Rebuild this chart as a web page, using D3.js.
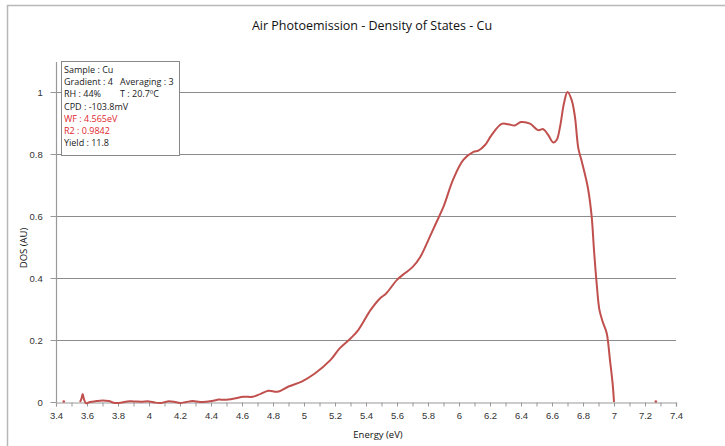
<!DOCTYPE html>
<html>
<head>
<meta charset="utf-8">
<script src="https://cdn.jsdelivr.net/npm/d3@7"></script>
<style>
  html, body { margin: 0; padding: 0; background: #fff; }
  svg { display: block; font-family: "Open Sans", "Noto Sans", sans-serif; }
</style>
</head>
<body>
<svg id="chart" width="725" height="446"></svg>
<script>
// Density of states spectrum (energy in eV, DOS normalised)
const energy = [3.555, 3.565, 3.572, 3.58, 3.594, 3.62, 3.66, 3.70, 3.74, 3.78, 3.82, 3.86, 3.90, 3.95, 4.00,
  4.04, 4.08, 4.12, 4.16, 4.20, 4.24, 4.28, 4.33, 4.37, 4.415, 4.45, 4.49, 4.55, 4.61, 4.67, 4.72, 4.77,
  4.83, 4.90, 4.985, 5.07, 5.17, 5.23, 5.30, 5.35, 5.43, 5.49, 5.53, 5.60, 5.65, 5.70, 5.75, 5.80,
  5.85, 5.90, 5.963, 6.028, 6.093, 6.125, 6.168, 6.21, 6.275, 6.318, 6.36, 6.40, 6.458, 6.51, 6.544,
  6.576, 6.608, 6.63, 6.652, 6.677, 6.70, 6.727, 6.748, 6.77, 6.79, 6.817, 6.834, 6.856, 6.871, 6.888,
  6.906, 6.927, 6.953, 6.974, 6.991, 7.0];
const dos = [0.0, 0.012, 0.026, 0.01, -0.004, 0.0, 0.003, 0.005, 0.003, -0.003, -0.002, 0.002, 0.002, 0.001, 0.002,
  -0.002, -0.003, 0.002, 0.001, -0.003, 0.0, 0.003, 0.0, 0.001, 0.004, 0.008, 0.007, 0.011, 0.017, 0.017, 0.026, 0.036,
  0.033, 0.05, 0.066, 0.092, 0.135, 0.173, 0.205, 0.232, 0.297, 0.334, 0.35, 0.394, 0.415, 0.435, 0.468, 0.52,
  0.575, 0.63, 0.719, 0.781, 0.807, 0.811, 0.829, 0.861, 0.897, 0.896, 0.892, 0.903, 0.898, 0.877, 0.88,
  0.861, 0.837, 0.845, 0.888, 0.963, 1.0, 0.974, 0.92, 0.818, 0.78, 0.725, 0.684, 0.598, 0.49, 0.383,
  0.297, 0.259, 0.222, 0.135, 0.06, 0.0];
// Isolated readings outside the main sweep
const strayEnergy = [3.45, 7.27];
const strayDos = [0.0, 0.0];

const xTicks = [3.4, 3.6, 3.8, 4, 4.2, 4.4, 4.6, 4.8, 5, 5.2, 5.4, 5.6, 5.8, 6, 6.2, 6.4, 6.6, 6.8, 7, 7.2, 7.4];
const yTicks = [0, 0.2, 0.4, 0.6, 0.8, 1];

const infoLines = [
  {text: "Sample : Cu", red: false},
  {text: "Gradient : 4", red: false, extra: "Averaging : 3"},
  {text: "RH : 44%", red: false, extra: "T :  20.7ºC"},
  {text: "CPD :  -103.8mV", red: false},
  {text: "WF : 4.565eV", red: true},
  {text: "R2 : 0.9842", red: true},
  {text: "Yield : 11.8", red: false}
];

const svg = d3.select("#chart");
const plotL = 56, plotR = 676, plotT = 92, plotB = 402;

const x = d3.scaleLinear().domain([3.4, 7.4]).range([plotL, plotR]);
const y = d3.scaleLinear().domain([0, 1]).range([plotB, plotT]);

// outer chart frame (top and left edges)
svg.append("path").attr("d", "M7.5,446 V5.5 H725")
  .attr("fill", "none").attr("stroke", "#b8b8b8").attr("stroke-width", 1.5);

// horizontal gridlines
svg.append("g").selectAll("line").data(yTicks.filter(d => d > 0)).join("line")
  .attr("x1", plotL).attr("x2", plotR)
  .attr("y1", d => Math.round(y(d)) + 0.5).attr("y2", d => Math.round(y(d)) + 0.5)
  .attr("stroke", "#8c8c8c").attr("stroke-width", 1);

// x axis with minor ticks every 0.1
const xAxis = d3.axisBottom(x).tickValues(d3.range(34, 75).map(v => v / 10))
  .tickSize(4).tickFormat(d => xTicks.some(t => Math.abs(t - d) < 1e-9) ? d3.format("~g")(d) : "");
const gx = svg.append("g").attr("transform", `translate(0,${plotB + 0.5})`).call(xAxis);
gx.select(".domain").attr("stroke", "#999").attr("stroke-width", 1.2);
gx.selectAll(".tick line").attr("stroke", "#999");
gx.selectAll(".tick text").attr("fill", "#333").attr("font-size", 9.5).attr("dy", "0.95em");

// y axis
const yAxis = d3.axisLeft(y).tickValues(yTicks).tickSize(6).tickSizeOuter(0)
  .tickFormat(d3.format("~g"));
const gy = svg.append("g").attr("transform", `translate(${plotL + 0.5},0)`).call(yAxis);
gy.select(".domain").attr("d", `M0,62V${plotB}`).attr("stroke", "#999").attr("stroke-width", 1.2);
gy.selectAll(".tick line").attr("stroke", "#999");
gy.selectAll(".tick text").attr("fill", "#333").attr("font-size", 9.5).attr("dx", "-0.5em");

// spectrum curve
const pts = energy.map((e, i) => [e, dos[i]]);
const line = d3.line().x(d => x(d[0])).y(d => y(d[1])).curve(d3.curveCatmullRom.alpha(0.5));
svg.append("path").datum(pts).attr("d", line)
  .attr("fill", "none").attr("stroke", "#c0504d").attr("stroke-width", 2)
  .attr("stroke-linejoin", "round");

// isolated readings
svg.append("g").selectAll("circle").data(strayEnergy.map((e, i) => [e, strayDos[i]])).join("circle")
  .attr("cx", d => x(d[0])).attr("cy", d => y(d[1]) - 0.5).attr("r", 1.3).attr("fill", "#c0504d");

// title and axis labels
svg.append("text").attr("x", 372).attr("y", 30).attr("text-anchor", "middle")
  .attr("font-size", 12.5).attr("fill", "#111").text("Air Photoemission - Density of States - Cu");
svg.append("text").attr("x", 378).attr("y", 438).attr("text-anchor", "middle")
  .attr("font-size", 9.5).attr("fill", "#111").text("Energy (eV)");
svg.append("text").attr("transform", "translate(27,248) rotate(-90)").attr("text-anchor", "middle")
  .attr("font-size", 9.5).attr("fill", "#111").text("DOS (AU)");

// measurement info box
const box = svg.append("g");
box.append("rect").attr("x", 61.5).attr("y", 61.5).attr("width", 118).attr("height", 94)
  .attr("fill", "#fff").attr("stroke", "#888").attr("stroke-width", 1);
infoLines.forEach((l, i) => {
  const yy = 73 + i * 12.2;
  box.append("text").attr("x", 64).attr("y", yy).attr("font-size", 9)
    .attr("fill", l.red ? "#e0292e" : "#1a1a1a").text(l.text);
  if (l.extra) {
    box.append("text").attr("x", 120).attr("y", yy).attr("font-size", 9)
      .attr("fill", "#1a1a1a").text(l.extra);
  }
});
</script>
</body>
</html>
